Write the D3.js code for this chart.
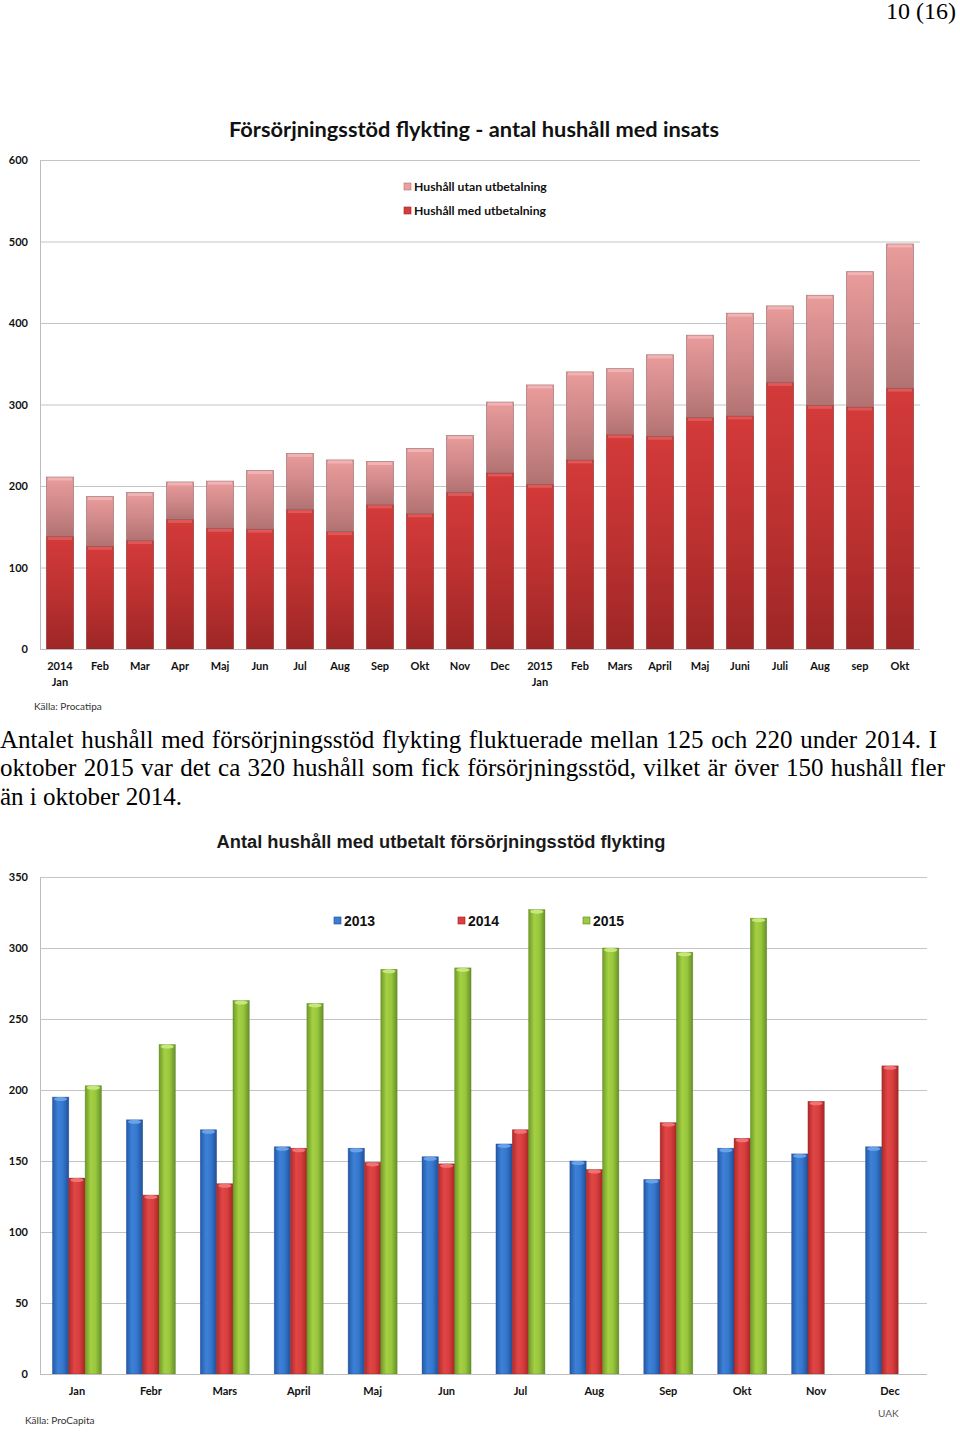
<!DOCTYPE html>
<html><head><meta charset="utf-8">
<script src="https://cdn.jsdelivr.net/npm/d3@7"></script>
<style>
body{margin:0;background:#fff;width:960px;height:1432px;position:relative;overflow:hidden}
.ser{font-family:"Liberation Serif","Times New Roman",serif;font-size:25px;line-height:28px;color:#000;position:absolute;white-space:nowrap}
.just{left:0;text-align:justify;text-align-last:justify}
</style></head><body>
<svg id="chart" width="960" height="1432" style="position:absolute;left:0;top:0"></svg>
<div class="ser" style="right:4px;top:-3px;font-size:24px">10 (16)</div>
<div class="ser just" style="top:726px;width:937px">Antalet hushåll med försörjningsstöd flykting fluktuerade mellan 125 och 220 under 2014. I</div>
<div class="ser just" style="top:754px;width:945px">oktober 2015 var det ca 320 hushåll som fick försörjningsstöd, vilket är över 150 hushåll fler</div>
<div class="ser" style="left:0;top:783px">än i oktober 2014.</div>
<script>
// ---------- Data: chart 1 ----------
const title1 = "Försörjningsstöd flykting - antal hushåll med insats";
const months1 = [["2014","Jan"],["Feb"],["Mar"],["Apr"],["Maj"],["Jun"],["Jul"],["Aug"],["Sep"],["Okt"],["Nov"],["Dec"],
                 ["2015","Jan"],["Feb"],["Mars"],["April"],["Maj"],["Juni"],["Juli"],["Aug"],["sep"],["Okt"]];
const medUtbetalning  = [138,126,133,159,148,147,171,144,177,166,192,216,202,232,263,261,284,286,327,299,297,320];
const utanUtbetalning = [73,61,59,46,58,72,69,88,53,80,70,87,122,108,81,100,101,126,94,135,166,177];
const seriesNames1 = ["Hushåll utan utbetalning","Hushåll med utbetalning"];
const ticks1 = [0,100,200,300,400,500,600];

// ---------- Data: chart 2 ----------
const title2 = "Antal hushåll med utbetalt försörjningsstöd flykting";
const months2 = ["Jan","Febr","Mars","April","Maj","Jun","Jul","Aug","Sep","Okt","Nov","Dec"];
const years = ["2013","2014","2015"];
const v2013 = [195,179,172,160,159,153,162,150,137,159,155,160];
const v2014 = [138,126,134,159,149,148,172,144,177,166,192,217];
const v2015 = [203,232,263,261,285,286,327,300,297,321];
const ticks2 = [0,50,100,150,200,250,300,350];

const svg = d3.select("#chart");
const defs = svg.append("defs");

function vgrad(id, stops){
  const g = defs.append("linearGradient").attr("id",id).attr("x1",0).attr("y1",0).attr("x2",0).attr("y2",1);
  stops.forEach(s=>g.append("stop").attr("offset",s[0]).attr("stop-color",s[1]));
}
function hgrad(id, stops){
  const g = defs.append("linearGradient").attr("id",id).attr("x1",0).attr("y1",0).attr("x2",1).attr("y2",0);
  stops.forEach(s=>g.append("stop").attr("offset",s[0]).attr("stop-color",s[1]));
}
vgrad("gPink",[[0,"#e99c9c"],[0.5,"#d08888"],[1,"#b27272"]]);
vgrad("gRed",[[0,"#d43a3a"],[0.5,"#bd3131"],[1,"#9e2626"]]);
hgrad("gBlue",[[0,"#2458a8"],[0.35,"#3d82d8"],[0.65,"#3577cc"],[1,"#21509a"]]);
hgrad("gRed2",[[0,"#b22a2a"],[0.35,"#e04646"],[0.65,"#d83e3e"],[1,"#a82626"]]);
hgrad("gGreen",[[0,"#6f9a26"],[0.35,"#a4d044"],[0.65,"#98c63c"],[1,"#66902a"]]);

// ================= Chart 1 =================
const y1 = d3.scaleLinear().domain([0,600]).range([649,160]);
const x1 = d3.scaleBand().domain(d3.range(months1.length)).range([40,920]).paddingInner(0.325).paddingOuter(0.1625);

const g1 = svg.append("g");
g1.append("text").attr("x",474).attr("y",137).attr("text-anchor","middle")
  .attr("font-family","Lato, 'Open Sans', sans-serif").attr("font-weight","bold").attr("font-size",21.8)
  .attr("fill","#111").text(title1);

const ax1 = g1.append("g").attr("transform","translate(40,0)")
  .call(d3.axisLeft(y1).tickValues(ticks1).tickSize(-880).tickPadding(12));
ax1.select(".domain").attr("stroke","#bdbdbd");
ax1.selectAll(".tick line").attr("stroke","#c4c4c4");
ax1.selectAll(".tick text").attr("font-family","Lato, sans-serif").attr("font-weight","bold").attr("font-size",11).attr("fill","#111");

// stacked
const stack1 = d3.stack().keys(["med","utan"])(months1.map((m,i)=>({i, med:medUtbetalning[i], utan:utanUtbetalning[i]})));
const fills1 = {med:"url(#gRed)", utan:"url(#gPink)"};
const caps1 = {med:"#e25a5a", utan:"#f2b6b6"};
const strokes1 = {med:"#7e1e1e", utan:"#8c5e5e"};
stack1.forEach(layer=>{
  const k = layer.key;
  const gl = g1.append("g");
  gl.selectAll("rect.b").data(layer).join("rect").attr("class","b")
    .attr("x",d=>x1(d.data.i)).attr("width",x1.bandwidth())
    .attr("y",d=>y1(d[1])).attr("height",d=>y1(d[0])-y1(d[1]))
    .attr("fill",fills1[k]).attr("stroke",strokes1[k]).attr("stroke-width",0.8).attr("stroke-opacity",0.7);
  gl.selectAll("rect.c").data(layer).join("rect").attr("class","c")
    .attr("x",d=>x1(d.data.i)+1.5).attr("width",x1.bandwidth()-3)
    .attr("y",d=>y1(d[1])+0.5).attr("height",3)
    .attr("fill",caps1[k]).attr("opacity",0.9);
});

const ax1b = g1.append("g").attr("transform","translate(0,649)")
  .call(d3.axisBottom(x1).tickSize(0).tickFormat(""));
ax1b.select(".domain").attr("stroke","#bdbdbd").attr("d","M40,0.5H920");
const lab1 = g1.append("g").attr("font-family","Lato, sans-serif").attr("font-weight","bold").attr("font-size",11).attr("fill","#111").attr("text-anchor","middle");
months1.forEach((m,i)=>{
  m.forEach((s,j)=>lab1.append("text").attr("x",x1(i)+x1.bandwidth()/2).attr("y",670+j*15.5).text(s));
});

// legend 1
const leg1 = g1.append("g").attr("font-family","Lato, sans-serif").attr("font-weight","bold").attr("font-size",12.2).attr("fill","#111");
[["#e8a0a0","#b57272"],["#d63c3c","#9a2424"]].forEach((c,i)=>{
  leg1.append("rect").attr("x",404).attr("y",183+i*24).attr("width",7).attr("height",7).attr("fill",c[0]).attr("stroke",c[1]).attr("stroke-width",0.6);
  leg1.append("text").attr("x",414).attr("y",191+i*24).text(seriesNames1[i]);
});
g1.append("text").attr("x",34).attr("y",710).attr("font-family","Lato, sans-serif").attr("font-size",10).attr("fill","#333").text("Källa: Procatipa");

// ================= Chart 2 =================
const y2 = d3.scaleLinear().domain([0,350]).range([1374,877]);
const x2 = d3.scaleBand().domain(months2).range([40,927]).paddingInner(0.337).paddingOuter(0.1685);
const xs = d3.scaleBand().domain(years).range([0,x2.bandwidth()]);
const g2 = svg.append("g");
g2.append("text").attr("x",441).attr("y",848).attr("text-anchor","middle")
  .attr("font-family","'Liberation Sans', Arial, sans-serif").attr("font-weight","bold").attr("font-size",18.3)
  .attr("fill","#1a1a1a").text(title2);

const ax2 = g2.append("g").attr("transform","translate(40,0)")
  .call(d3.axisLeft(y2).tickValues(ticks2).tickSize(-887).tickPadding(12));
ax2.select(".domain").attr("stroke","#bdbdbd");
ax2.selectAll(".tick line").attr("stroke","#c4c4c4");
ax2.selectAll(".tick text").attr("font-family","Lato, sans-serif").attr("font-weight","bold").attr("font-size",11).attr("fill","#111");

const series2 = [["2013",v2013,"url(#gBlue)","#6aa2ea","#1d4a8e"],["2014",v2014,"url(#gRed2)","#f07272","#8e2020"],["2015",v2015,"url(#gGreen)","#c6e77a","#5a8220"]];
series2.forEach(([yr,vals,fill,cap,str])=>{
  const data = vals.map((v,i)=>({m:months2[i], v}));
  const gs = g2.append("g");
  gs.selectAll("rect.b").data(data).join("rect").attr("class","b")
    .attr("x",d=>x2(d.m)+xs(yr)).attr("width",xs.bandwidth())
    .attr("y",d=>y2(d.v)).attr("height",d=>y2(0)-y2(d.v))
    .attr("fill",fill).attr("stroke",str).attr("stroke-width",0.6).attr("stroke-opacity",0.6);
  gs.selectAll("ellipse").data(data).join("ellipse")
    .attr("cx",d=>x2(d.m)+xs(yr)+xs.bandwidth()/2).attr("cy",d=>y2(d.v)+2)
    .attr("rx",xs.bandwidth()/2-1.5).attr("ry",2).attr("fill",cap);
});
const ax2b = g2.append("g").attr("transform","translate(0,1374)")
  .call(d3.axisBottom(x2).tickSize(0).tickPadding(13));
ax2b.select(".domain").attr("stroke","#bdbdbd").attr("d","M40,0.5H927");
ax2b.selectAll(".tick text").attr("font-family","Lato, sans-serif").attr("font-weight","bold").attr("font-size",11).attr("fill","#111");

const leg2 = g2.append("g").attr("font-family","'Liberation Sans', Arial, sans-serif").attr("font-weight","bold").attr("font-size",14).attr("fill","#111");
const legX = [334,458,583];
const legC = [["#3a7dd4","#1d4a8e"],["#dc4040","#8e2020"],["#9ccb40","#5a8220"]];
years.forEach((yr,i)=>{
  leg2.append("rect").attr("x",legX[i]).attr("y",917).attr("width",7).attr("height",7).attr("fill",legC[i][0]).attr("stroke",legC[i][1]).attr("stroke-width",0.6);
  leg2.append("text").attr("x",legX[i]+10).attr("y",926).text(yr);
});
g2.append("text").attr("x",25).attr("y",1424).attr("font-family","Lato, sans-serif").attr("font-size",10).attr("fill","#333").text("Källa: ProCapita");
g2.append("text").attr("x",878).attr("y",1417).attr("font-family","Lato, sans-serif").attr("font-size",10).attr("fill","#555").text("UAK");
</script>
</body></html>
